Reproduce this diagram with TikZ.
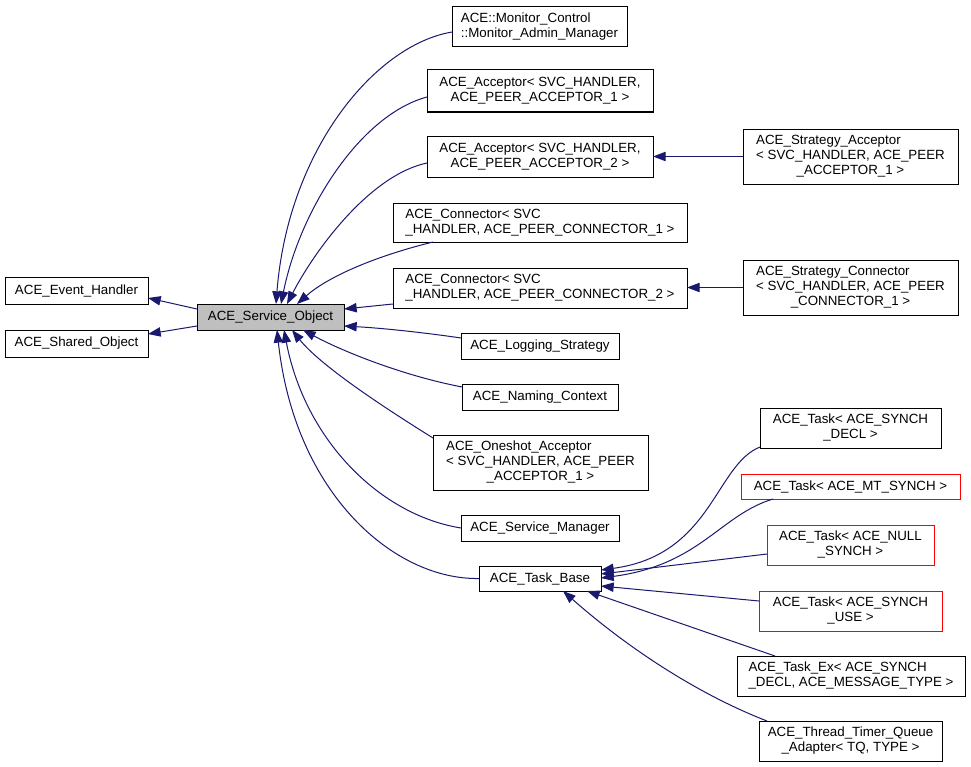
\documentclass[tikz,border=0pt]{standalone}
\usepackage{fontspec}
\setmainfont{Liberation Sans}
\usetikzlibrary{arrows.meta,calc}
\definecolor{edgeblue}{HTML}{191970}
\definecolor{soGray}{HTML}{BFBFBF}
\newcommand{\cls}[2]{\begin{tabular}{@{}l@{}}#1\\\multicolumn{1}{@{}c@{}}{#2}\end{tabular}}
\tikzstyle{every node}=[font=\fontsize{10}{11.25}\selectfont, inner sep=0, outer sep=0]
\tikzstyle{classbox}=[draw=black, line width=0.75pt, rectangle, align=center]
\tikzstyle{redbox}=[classbox, draw=red]
\tikzstyle{inh}=[draw=edgeblue, line width=0.75pt, -{Triangle[length=9.5pt,width=7pt]}]
\tikzset{wh/.style 2 args={minimum width=#1*0.75pt, minimum height=#2*0.75pt}}

\begin{document}
\begin{tikzpicture}[x=0.75pt, y=-0.75pt]
\useasboundingbox[fill=white] (0,0) rectangle (971,767);

% base classes
\node[classbox, wh={143}{27}] (eh) at (76.5,290.5) {ACE\_Event\_Handler};
\node[classbox, wh={143}{27}] (sho) at (76.5,343.5) {ACE\_Shared\_Object};
\node[classbox, fill=soGray, wh={147}{26}] (so) at (270.5,317) {ACE\_Service\_Object};

% derived from ACE_Service_Object
\node[classbox, wh={175}{40}] (mon) at (539.5,27) {\cls{ACE::Monitor\_Control}{::Monitor\_Admin\_Manager}};
\node[classbox, wh={226}{42}] (acc1) at (540,91) {\cls{ACE\_Acceptor< SVC\_HANDLER,}{ACE\_PEER\_ACCEPTOR\_1 >}};
\node[classbox, wh={226}{41}] (acc2) at (540,156.5) {\cls{ACE\_Acceptor< SVC\_HANDLER,}{ACE\_PEER\_ACCEPTOR\_2 >}};
\node[classbox, wh={294}{39}] (con1) at (540,222.5) {\cls{ACE\_Connector< SVC}{\_HANDLER, ACE\_PEER\_CONNECTOR\_1 >}};
\node[classbox, wh={294}{40}] (con2) at (540,288) {\cls{ACE\_Connector< SVC}{\_HANDLER, ACE\_PEER\_CONNECTOR\_2 >}};
\node[classbox, wh={158}{26}] (log) at (540,346) {ACE\_Logging\_Strategy};
\node[classbox, wh={156}{26}] (nam) at (540,397) {ACE\_Naming\_Context};
\node[classbox, wh={215}{55}] (one) at (540.5,462.5) {\cls{ACE\_Oneshot\_Acceptor\\< SVC\_HANDLER, ACE\_PEER}{\_ACCEPTOR\_1 >}};
\node[classbox, wh={158}{26}] (man) at (540,528) {ACE\_Service\_Manager};
\node[classbox, wh={122}{25}] (tb) at (540,578.5) {ACE\_Task\_Base};

% right column
\node[classbox, wh={215}{55}] (sacc) at (850.5,156.5) {\cls{ACE\_Strategy\_Acceptor\\< SVC\_HANDLER, ACE\_PEER}{\_ACCEPTOR\_1 >}};
\node[classbox, wh={215}{55}] (scon) at (850.5,287.5) {\cls{ACE\_Strategy\_Connector\\< SVC\_HANDLER, ACE\_PEER}{\_CONNECTOR\_1 >}};
\node[classbox, wh={181}{40}] (tdecl) at (850.5,428) {\cls{ACE\_Task< ACE\_SYNCH}{\_DECL >}};
\node[redbox, wh={219}{25}] (tmt) at (850.5,486.5) {ACE\_Task< ACE\_MT\_SYNCH >};
\node[redbox, wh={167}{40}] (tnull) at (850.5,545) {\cls{ACE\_Task< ACE\_NULL}{\_SYNCH >}};
\node[redbox, wh={183}{40}] (tuse) at (850.5,611) {\cls{ACE\_Task< ACE\_SYNCH}{\_USE >}};
\node[classbox, wh={228}{40}] (tex) at (851,676) {\cls{ACE\_Task\_Ex< ACE\_SYNCH}{\_DECL, ACE\_MESSAGE\_TYPE >}};
\node[classbox, wh={183}{40}] (ttq) at (850.5,741) {\cls{ACE\_Thread\_Timer\_Queue}{\_Adapter< TQ, TYPE >}};

% inheritance edges
\draw[inh] ($(so.west)+(0,-8)$) -- ($(eh.east)+(0,7.5)$);
\draw[inh] ($(so.west)+(0,9)$) -- ($(sho.east)+(0,-9.5)$);

\draw[inh] ($(mon.west)+(0,5)$) .. controls (375,45) and (288,150) .. ($(so.north)+(5.5,0)$);
\draw[inh] ($(acc1.west)+(0,6)$) .. controls (360,115) and (300,210) .. ($(so.north)+(10.5,0)$);
\draw[inh] ($(acc2.west)+(0,6.5)$) .. controls (370,175) and (315,250) .. ($(so.north)+(16.5,0)$);
\draw[inh] ($(con1.south west)+(40,0)$) .. controls (380,255) and (330,275) .. ($(so.north)+(26.5,0)$);
\draw[inh] ($(con2.west)+(0,16)$) -- ($(so.east)+(0,-8)$);
\draw[inh] ($(log.west)+(0,-8)$) .. controls (420,332) and (380,328) .. ($(so.east)+(0,9)$);
\draw[inh] ($(nam.west)+(0,-10)$) .. controls (400,375) and (340,350) .. ($(so.south)+(32.5,0)$);
\draw[inh] ($(one.west)+(0,-24.5)$) .. controls (380,405) and (320,365) .. ($(so.south)+(21.5,0)$);
\draw[inh] (man.west) .. controls (380,515) and (305,440) .. ($(so.south)+(13.5,0)$);
\draw[inh] (tb.west) .. controls (395,580) and (295,495) .. ($(so.south)+(6.5,0)$);

\draw[inh] (sacc.west) -- (sacc.west -| acc2.east);
\draw[inh] (scon.west) -- (scon.west -| con2.east);

\draw[inh] ($(tdecl.south west)+(0,-1)$) .. controls (715,465) and (712,555) .. ($(tb.east)+(0,-8.5)$);
\draw[inh] ($(tmt.south west)+(32,0)$) .. controls (720,515) and (700,565) .. ($(tb.east)+(0,-0.5)$);
\draw[inh] ($(tnull.west)+(0,9)$) -- ($(tb.east)+(0,-4.5)$);
\draw[inh] ($(tuse.west)+(0,-10)$) -- ($(tb.east)+(0,7.5)$);
\draw[inh] ($(tex.north west)+(38,0)$) -- ($(tb.south east)+(-14,0)$);
\draw[inh] ($(ttq.north west)+(8,0)$) .. controls (700,695) and (630,650) .. ($(tb.south)+(23,0)$);
\end{tikzpicture}
\end{document}
